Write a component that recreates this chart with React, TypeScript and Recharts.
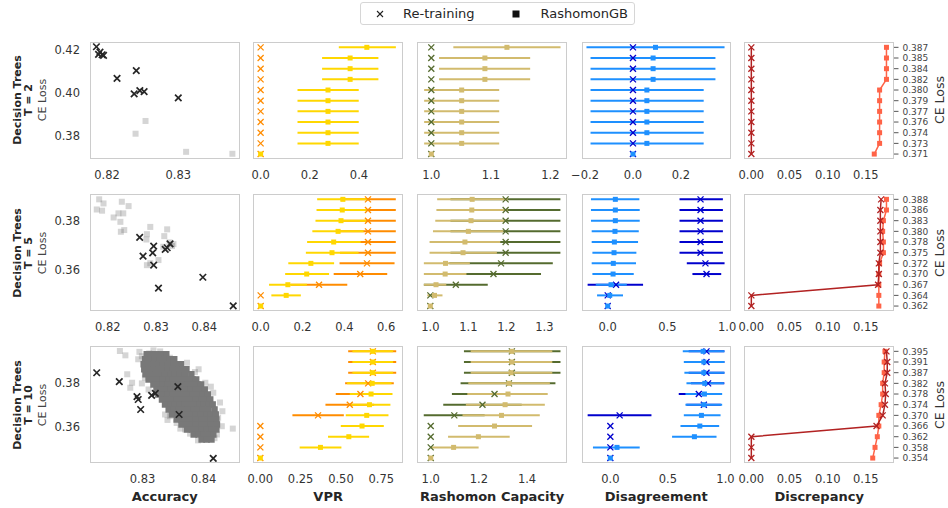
import React from 'react';
import { ScatterChart, Scatter, XAxis, YAxis, ErrorBar } from 'recharts';

type Pt = [number, number];
type Bar = [number, number, number];

// CE-loss thresholds on the right axis, level 0 (bottom) to level 10 (top)
const lossT2 = ['0.371', '0.373', '0.374', '0.376', '0.377', '0.379', '0.380', '0.382', '0.384', '0.385', '0.387'];
const lossT5 = ['0.362', '0.364', '0.367', '0.370', '0.372', '0.375', '0.378', '0.380', '0.383', '0.386', '0.388'];
const lossT10 = ['0.354', '0.358', '0.362', '0.366', '0.370', '0.374', '0.378', '0.382', '0.387', '0.391', '0.395'];

// Accuracy vs CE loss, [accuracy, loss]
const accRetrainT2: Pt[] = [
  [0.8185, 0.4215], [0.8188, 0.418], [0.819, 0.419], [0.8193, 0.4178], [0.8195, 0.4175], [0.8214, 0.4068],
  [0.8241, 0.4104], [0.8238, 0.3997], [0.8246, 0.4012], [0.8252, 0.4007], [0.83, 0.3978],
];
const accGbT2: Pt[] = [[0.8254, 0.3871], [0.824, 0.3812], [0.8311, 0.3728], [0.8376, 0.3719]];

const accRetrainT5: Pt[] = [
  [0.8266, 0.3733], [0.8273, 0.3655], [0.8295, 0.3697], [0.8293, 0.3669], [0.8295, 0.3618], [0.8305, 0.3523],
  [0.8319, 0.3683], [0.8329, 0.3706], [0.8323, 0.369], [0.8397, 0.3568], [0.846, 0.345],
];
const accGbT5: Pt[] = [
  [0.8182, 0.389], [0.8191, 0.3873], [0.8177, 0.3848], [0.8188, 0.3843], [0.8229, 0.388], [0.8243, 0.3862],
  [0.8222, 0.3832], [0.8212, 0.3815], [0.8232, 0.3832], [0.8226, 0.3797], [0.8227, 0.3756], [0.8234, 0.3763],
  [0.8281, 0.3746], [0.8288, 0.3776], [0.828, 0.3724], [0.8323, 0.3766], [0.8317, 0.3738], [0.8333, 0.3697],
  [0.8315, 0.3694], [0.8305, 0.3639], [0.8281, 0.3618], [0.8288, 0.3626], [0.8328, 0.3712], [0.8336, 0.3705],
];

const accRetrainT10: Pt[] = [
  [0.8225, 0.3849], [0.8262, 0.3808], [0.8291, 0.3739], [0.8293, 0.3726], [0.8297, 0.368],
  [0.8315, 0.3745], [0.8321, 0.3754], [0.8358, 0.3785], [0.836, 0.3657], [0.8416, 0.3455],
];
const accGbT10: Pt[] = [
  [0.8263, 0.3949], [0.8272, 0.3929], [0.8295, 0.3945], [0.8293, 0.3911], [0.8311, 0.3938], [0.8275, 0.3842],
  [0.8283, 0.3803], [0.828, 0.378], [0.8304, 0.3865], [0.8304, 0.3826], [0.8299, 0.38], [0.831, 0.3772],
  [0.8321, 0.3803], [0.8323, 0.3757], [0.8332, 0.3726], [0.8337, 0.3657], [0.8345, 0.3649], [0.8356, 0.3618],
  [0.837, 0.3588], [0.8378, 0.3569], [0.8392, 0.3865], [0.8403, 0.3803], [0.8416, 0.3757], [0.8424, 0.3642],
  [0.843, 0.3603], [0.8448, 0.3592], [0.8422, 0.3565], [0.8405, 0.3542], [0.8373, 0.3895], [0.8345, 0.3918],
  [0.8332, 0.3926], [0.8299, 0.3925], [0.8318, 0.3952], [0.8329, 0.3947], [0.8386, 0.3852], [0.8412, 0.3785],
  [0.8427, 0.3712], [0.8431, 0.3672], [0.8418, 0.3548], [0.8391, 0.3538], [0.8362, 0.3592], [0.8341, 0.3632],
];
// dense core of the T = 10 RashomonGB cloud, one row per loss level
const accGbT10Core: { loss: number; acc: number[] }[] = [
  { loss: 0.3934, acc: [0.8307, 0.8316, 0.8322, 0.8331, 0.8339] },
  { loss: 0.3911, acc: [0.8304, 0.8313, 0.832, 0.8329, 0.8336, 0.8345, 0.8352] },
  { loss: 0.3888, acc: [0.8302, 0.8309, 0.8318, 0.8327, 0.8334, 0.8342, 0.8351, 0.8358, 0.8363] },
  { loss: 0.3865, acc: [0.8303, 0.831, 0.8319, 0.8326, 0.8335, 0.8342, 0.835, 0.8359, 0.8366, 0.8372] },
  { loss: 0.3842, acc: [0.8305, 0.8314, 0.8321, 0.833, 0.8337, 0.8346, 0.8353, 0.8361, 0.837, 0.838] },
  { loss: 0.3818, acc: [0.831, 0.8318, 0.8327, 0.8334, 0.8343, 0.835, 0.8358, 0.8367, 0.8374, 0.8382, 0.8388] },
  { loss: 0.3795, acc: [0.8318, 0.8325, 0.8334, 0.8342, 0.8351, 0.8358, 0.8366, 0.8375, 0.8382, 0.839, 0.8396] },
  { loss: 0.3772, acc: [0.8323, 0.8331, 0.834, 0.8347, 0.8355, 0.8364, 0.8371, 0.8379, 0.8388, 0.8395, 0.8402] },
  { loss: 0.3749, acc: [0.8326, 0.8335, 0.8342, 0.835, 0.8359, 0.8366, 0.8374, 0.8383, 0.839, 0.8398, 0.8407] },
  { loss: 0.3726, acc: [0.8332, 0.834, 0.8349, 0.8356, 0.8364, 0.8373, 0.838, 0.8388, 0.8397, 0.8404, 0.8411] },
  { loss: 0.3703, acc: [0.8337, 0.8346, 0.8353, 0.8361, 0.837, 0.8377, 0.8385, 0.8394, 0.8401, 0.8409, 0.8415] },
  { loss: 0.368, acc: [0.8343, 0.8351, 0.836, 0.8367, 0.8375, 0.8384, 0.8391, 0.8399, 0.8408, 0.8418] },
  { loss: 0.3657, acc: [0.8348, 0.8357, 0.8364, 0.8372, 0.8381, 0.8388, 0.8396, 0.8405, 0.8412, 0.842] },
  { loss: 0.3634, acc: [0.8356, 0.8364, 0.8373, 0.838, 0.8388, 0.8397, 0.8404, 0.8412, 0.8421] },
  { loss: 0.3611, acc: [0.8364, 0.8373, 0.838, 0.8388, 0.8397, 0.8404, 0.8412, 0.8422] },
  { loss: 0.3588, acc: [0.8373, 0.8381, 0.839, 0.8397, 0.8405, 0.8414, 0.8421] },
  { loss: 0.3565, acc: [0.8384, 0.8392, 0.8401, 0.8408, 0.8416] },
  { loss: 0.3542, acc: [0.8397, 0.8405, 0.8413] },
];

// per level: [mean, low, high]
const vprGbT2: Bar[] = [
  [0, 0, 0], [0.274, 0.15, 0.399], [0.274, 0.15, 0.399], [0.274, 0.15, 0.399], [0.274, 0.15, 0.399], [0.274, 0.15, 0.399],
  [0.274, 0.15, 0.399], [0.364, 0.25, 0.479], [0.364, 0.25, 0.479], [0.364, 0.25, 0.479], [0.432, 0.318, 0.55],
];
const vprRtT2: Bar[] = [
  [0, 0, 0], [0, 0, 0], [0, 0, 0], [0, 0, 0], [0, 0, 0], [0, 0, 0], [0, 0, 0], [0, 0, 0], [0, 0, 0], [0, 0, 0], [0, 0, 0],
];
const rcGbT2: Bar[] = [
  [1, 1, 1], [1.051, 0.988, 1.114], [1.051, 0.988, 1.114], [1.051, 0.988, 1.114], [1.051, 0.988, 1.114], [1.051, 0.988, 1.114],
  [1.051, 0.988, 1.114], [1.09, 1.013, 1.166], [1.09, 1.013, 1.166], [1.09, 1.013, 1.166], [1.127, 1.037, 1.217],
];
const rcRtT2: Bar[] = [
  [1, 1, 1], [1, 1, 1], [1, 1, 1], [1, 1, 1], [1, 1, 1], [1, 1, 1], [1, 1, 1], [1, 1, 1], [1, 1, 1], [1, 1, 1], [1, 1, 1],
];
const disGbT2: Bar[] = [
  [0, 0, 0], [0.058, -0.177, 0.295], [0.058, -0.177, 0.295], [0.058, -0.177, 0.295], [0.058, -0.177, 0.295], [0.058, -0.177, 0.295],
  [0.058, -0.177, 0.295], [0.084, -0.177, 0.344], [0.084, -0.177, 0.344], [0.084, -0.177, 0.344], [0.094, -0.194, 0.382],
];
const disRtT2: Bar[] = [
  [0, 0, 0], [0, 0, 0], [0, 0, 0], [0, 0, 0], [0, 0, 0], [0, 0, 0], [0, 0, 0], [0, 0, 0], [0, 0, 0], [0, 0, 0], [0, 0, 0],
];
const discGbT2 = [0.161, 0.168, 0.168, 0.168, 0.168, 0.168, 0.168, 0.177, 0.177, 0.177, 0.177];
const discRtT2 = [0, 0, 0, 0, 0, 0, 0, 0, 0, 0, 0];

const vprGbT5: Bar[] = [
  [0, 0, 0], [0.122, 0.051, 0.192], [0.13, 0.04, 0.221], [0.22, 0.117, 0.327], [0.24, 0.132, 0.351], [0.341, 0.216, 0.468],
  [0.349, 0.222, 0.478], [0.37, 0.247, 0.492], [0.384, 0.262, 0.506], [0.39, 0.267, 0.514], [0.393, 0.27, 0.517],
];
const vprRtT5: Bar[] = [
  [0, 0, 0], [0, 0, 0], [0.279, 0.144, 0.414], [0.476, 0.349, 0.605], [0.508, 0.377, 0.64], [0.513, 0.379, 0.646],
  [0.513, 0.379, 0.646], [0.513, 0.379, 0.646], [0.513, 0.379, 0.646], [0.513, 0.379, 0.646], [0.513, 0.379, 0.646],
];
const rcGbT5: Bar[] = [
  [1, 1, 1], [1.011, 0.992, 1.032], [1.015, 0.983, 1.042], [1.039, 0.983, 1.095], [1.04, 0.983, 1.104], [1.086, 0.998, 1.175],
  [1.091, 0.998, 1.184], [1.1, 1.007, 1.192], [1.107, 1.013, 1.2], [1.109, 1.016, 1.203], [1.11, 1.018, 1.203],
];
const rcRtT5: Bar[] = [
  [1, 1, 1], [1, 1, 1], [1.067, 0.983, 1.151], [1.166, 1.041, 1.291], [1.186, 1.05, 1.322], [1.198, 1.053, 1.342],
  [1.198, 1.053, 1.342], [1.198, 1.053, 1.342], [1.198, 1.053, 1.342], [1.198, 1.053, 1.342], [1.198, 1.053, 1.342],
];
const disGbT5: Bar[] = [
  [0, 0, 0], [0.017, -0.089, 0.128], [0.028, -0.1, 0.16], [0.045, -0.128, 0.218], [0.047, -0.134, 0.237], [0.053, -0.128, 0.24],
  [0.056, -0.134, 0.254], [0.061, -0.134, 0.26], [0.064, -0.14, 0.268], [0.064, -0.14, 0.268], [0.064, -0.14, 0.265],
];
const disRtT5: Bar[] = [
  [0, 0, 0], [0, 0, 0], [0.07, -0.168, 0.296], [0.827, 0.709, 0.95], [0.818, 0.662, 0.978], [0.777, 0.601, 0.964],
  [0.777, 0.601, 0.964], [0.777, 0.601, 0.964], [0.777, 0.601, 0.964], [0.777, 0.601, 0.964], [0.777, 0.601, 0.964],
];
const discGbT5 = [0.167, 0.167, 0.167, 0.167, 0.168, 0.173, 0.173, 0.172, 0.173, 0.177, 0.177];
const discRtT5 = [0, 0, 0.166, 0.167, 0.167, 0.169, 0.169, 0.169, 0.169, 0.169, 0.17];

const vprGbT10: Bar[] = [
  [0, 0, 0], [0.373, 0.244, 0.503], [0.549, 0.42, 0.675], [0.631, 0.499, 0.766], [0.66, 0.53, 0.795], [0.677, 0.547, 0.807],
  [0.687, 0.555, 0.82], [0.694, 0.538, 0.814], [0.696, 0.571, 0.824], [0.698, 0.571, 0.824], [0.698, 0.571, 0.824],
];
const vprRtT10: Bar[] = [
  [0, 0, 0], [0, 0, 0], [0, 0, 0], [0, 0, 0], [0.358, 0.199, 0.518], [0.555, 0.404, 0.706],
  [0.621, 0.468, 0.774], [0.669, 0.526, 0.828], [0.698, 0.545, 0.843], [0.698, 0.545, 0.843], [0.698, 0.545, 0.843],
];
const rcGbT10: Bar[] = [
  [1, 1, 1], [1.095, 1.0, 1.199], [1.198, 1.072, 1.328], [1.265, 1.114, 1.421], [1.294, 1.132, 1.453], [1.309, 1.146, 1.474],
  [1.321, 1.152, 1.486], [1.325, 1.156, 1.495], [1.334, 1.166, 1.505], [1.337, 1.166, 1.505], [1.337, 1.166, 1.505],
];
const rcRtT10: Bar[] = [
  [1, 1, 1], [1, 1, 1], [1, 1, 1], [1, 1, 1], [1.098, 0.971, 1.224], [1.215, 1.052, 1.378],
  [1.265, 1.088, 1.442], [1.325, 1.124, 1.518], [1.337, 1.138, 1.539], [1.337, 1.138, 1.539], [1.337, 1.138, 1.539],
];
const disGbT10: Bar[] = [
  [0, 0, 0], [0.058, -0.151, 0.255], [0.73, 0.536, 0.922], [0.777, 0.609, 0.945], [0.791, 0.638, 0.957], [0.812, 0.652, 0.971],
  [0.817, 0.652, 0.971], [0.82, 0.661, 0.986], [0.812, 0.643, 0.991], [0.812, 0.638, 0.991], [0.806, 0.629, 0.991],
];
const disRtT10: Bar[] = [
  [0, 0, 0], [0, 0, 0], [0, 0, 0], [0, 0, 0], [0.081, -0.197, 0.357], [0.812, 0.66, 0.96],
  [0.768, 0.594, 0.94], [0.849, 0.7, 0.99], [0.835, 0.68, 0.99], [0.835, 0.68, 0.99], [0.835, 0.68, 0.99],
];
const discGbT10 = [0.159, 0.162, 0.165, 0.167, 0.167, 0.17, 0.172, 0.172, 0.174, 0.174, 0.175];
const discRtT10 = [0, 0, 0, 0.164, 0.172, 0.175, 0.176, 0.175, 0.178, 0.178, 0.177];

const FONT = "'DejaVu Sans', sans-serif";
const PW = 149.5;
const PH = 117.4;
const XH = 32;
const PAD = 22;
const colLeft = [90, 253.4, 417.3, 581.5, 744.4];
const rowTop = [41.7, 193.9, 345.9];
const levels = [0, 1, 2, 3, 4, 5, 6, 7, 8, 9, 10];

const tickStyle = { fontSize: 11.5, fill: '#333', fontFamily: FONT };
const fmt = (d: number) => (v: number) => (v < 0 ? '\u2212' : '') + Math.abs(v).toFixed(d);

const xShape = (color: string, s: number, w: number) => (p: any) => {
  const h = s / 2;
  return (
    <g>
      <line x1={p.cx - h} y1={p.cy - h} x2={p.cx + h} y2={p.cy + h} stroke={color} strokeWidth={w} />
      <line x1={p.cx - h} y1={p.cy + h} x2={p.cx + h} y2={p.cy - h} stroke={color} strokeWidth={w} />
    </g>
  );
};
const sqShape = (color: string, s: number, op = 1) => (p: any) => (
  <rect x={p.cx - s / 2} y={p.cy - s / 2} width={s} height={s} fill={color} fillOpacity={op} />
);
const blank = () => <g />;

const Frame = ({ left }: { left: number }) => (
  <div style={{ position: 'absolute', left, top: 0, width: PW, height: PH, border: '1.25px solid #cccccc', boxSizing: 'border-box', pointerEvents: 'none' }} />
);

const toPts = (arr: Pt[]) => arr.map(([x, y]) => ({ x, y }));
const toBars = (arr: Bar[]) => arr.map(([m, lo, hi], i) => ({ x: m, y: i, err: [m - lo, hi - m] }));

const AccPanel = ({ left, top, retrain, gb, core, xDomain, xTicks, yDomain, yTicks }: any) => {
  const corePts = core ? core.flatMap((r: any) => r.acc.map((a: number) => ({ x: a, y: r.loss }))) : [];
  return (
    <div style={{ position: 'absolute', left: left - 50, top }}>
      <ScatterChart width={50 + PW + PAD} height={PH + XH} margin={{ top: 0, right: PAD, bottom: 0, left: 0 }}>
        <XAxis type="number" dataKey="x" domain={xDomain} ticks={xTicks} tickFormatter={fmt(2)} allowDataOverflow
          axisLine={false} tickLine={false} tickSize={6} tickMargin={5.5} tick={tickStyle} height={XH} interval={0} />
        <YAxis type="number" dataKey="y" domain={yDomain} ticks={yTicks} tickFormatter={fmt(2)} allowDataOverflow
          axisLine={false} tickLine={false} tickSize={6} tickMargin={4} tick={tickStyle} width={50} interval={0} />
        <Scatter data={toPts(gb)} shape={sqShape('#696969', 6, 0.28)} isAnimationActive={false} />
        {core && <Scatter data={corePts} shape={sqShape('#787878', 6.5, 1)} isAnimationActive={false} />}
        <Scatter data={toPts(retrain)} shape={xShape('#262626', 6.5, 1.7)} isAnimationActive={false} />
      </ScatterChart>
      <Frame left={50} />
    </div>
  );
};

const ErrPanel = ({ left, top, gb, rt, gbColor, rtColor, domain, ticks, digits }: any) => {
  const gbData = toBars(gb);
  const rtData = toBars(rt);
  return (
    <div style={{ position: 'absolute', left: left - PAD, top }}>
      <ScatterChart width={PW + 2 * PAD} height={PH + XH} margin={{ top: 0, right: PAD, bottom: 0, left: PAD }}>
        <XAxis type="number" dataKey="x" domain={domain} ticks={ticks} tickFormatter={fmt(digits)} allowDataOverflow
          axisLine={false} tickLine={false} tickSize={6} tickMargin={5.5} tick={tickStyle} height={XH} interval={0} />
        <YAxis type="number" dataKey="y" domain={[-0.5, 10.5]} allowDataOverflow hide width={0} />
        <Scatter data={rtData} shape={blank} isAnimationActive={false}>
          <ErrorBar dataKey="err" direction="x" stroke={rtColor} strokeWidth={2} width={0} isAnimationActive={false} />
        </Scatter>
        <Scatter data={gbData} shape={blank} isAnimationActive={false}>
          <ErrorBar dataKey="err" direction="x" stroke={gbColor} strokeWidth={2} width={0} isAnimationActive={false} />
        </Scatter>
        <Scatter data={rtData} shape={xShape(rtColor, 6, 1.3)} isAnimationActive={false} />
        <Scatter data={gbData} shape={sqShape(gbColor, 5)} isAnimationActive={false} />
      </ScatterChart>
      <Frame left={PAD} />
    </div>
  );
};

const DiscPanel = ({ left, top, gb, rt, labels }: any) => {
  const gbData = gb.map((v: number, i: number) => ({ x: v, y: levels[i] }));
  const rtData = rt.map((v: number, i: number) => ({ x: v, y: levels[i] }));
  return (
    <div style={{ position: 'absolute', left: left - PAD, top }}>
      <ScatterChart width={PW + PAD + 50} height={PH + XH} margin={{ top: 0, right: 0, bottom: 0, left: PAD }}>
        <XAxis type="number" dataKey="x" domain={[-0.0096, 0.1862]} ticks={[0, 0.05, 0.1, 0.15]} tickFormatter={fmt(2)} allowDataOverflow
          axisLine={false} tickLine={false} tickSize={6} tickMargin={5.5} tick={tickStyle} height={XH} interval={0} />
        <YAxis type="number" dataKey="y" orientation="right" domain={[-0.5, 10.5]} ticks={levels} tickFormatter={(i: number) => labels[i]}
          allowDataOverflow axisLine={false} tickLine={{ stroke: '#555', strokeWidth: 1 }} tickSize={5} tickMargin={4}
          tick={{ fontSize: 9, fill: '#444', fontFamily: FONT }} width={50} interval={0} />
        <Scatter data={gbData} line={{ stroke: '#FF6347', strokeWidth: 1.5 }} lineType="joint" shape={sqShape('#FF6347', 5)} isAnimationActive={false} />
        <Scatter data={rtData} line={{ stroke: '#B22222', strokeWidth: 1.5 }} lineType="joint" shape={xShape('#B22222', 6, 1.3)} isAnimationActive={false} />
      </ScatterChart>
      <Frame left={PAD} />
    </div>
  );
};

const VText = ({ x, y, children, style }: any) => (
  <div style={{ position: 'absolute', left: x, top: y, transform: 'translate(-50%, -50%) rotate(-90deg)', whiteSpace: 'nowrap', lineHeight: 1, ...style }}>
    {children}
  </div>
);

const rows = [
  {
    t: 'T = 2', labels: lossT2,
    acc: { retrain: accRetrainT2, gb: accGbT2, xDomain: [0.8176, 0.8386], xTicks: [0.82, 0.83], yDomain: [0.3693, 0.4237], yTicks: [0.38, 0.4, 0.42] },
    vpr: { gb: vprGbT2, rt: vprRtT2, domain: [-0.031, 0.577], ticks: [0, 0.2, 0.4], digits: 1 },
    rc: { gb: rcGbT2, rt: rcRtT2, domain: [0.976, 1.227], ticks: [1.0, 1.1, 1.2], digits: 1 },
    dis: { gb: disGbT2, rt: disRtT2, domain: [-0.2126, 0.411], ticks: [-0.2, 0, 0.2], digits: 1 },
    disc: { gb: discGbT2, rt: discRtT2 },
  },
  {
    t: 'T = 5', labels: lossT5,
    acc: { retrain: accRetrainT5, gb: accGbT5, xDomain: [0.8163, 0.8473], xTicks: [0.82, 0.83, 0.84], yDomain: [0.3427, 0.3912], yTicks: [0.36, 0.38] },
    vpr: { gb: vprGbT5, rt: vprRtT5, domain: [-0.0367, 0.678], ticks: [0, 0.2, 0.4, 0.6], digits: 1 },
    rc: { gb: rcGbT5, rt: rcRtT5, domain: [0.965, 1.358], ticks: [1.0, 1.1, 1.2, 1.3], digits: 1 },
    dis: { gb: disGbT5, rt: disRtT5, domain: [-0.215, 1.036], ticks: [0, 0.5, 1.0], digits: 1 },
    disc: { gb: discGbT5, rt: discRtT5 },
  },
  {
    t: 'T = 10', labels: lossT10,
    acc: { retrain: accRetrainT10, gb: accGbT10, core: accGbT10Core, xDomain: [0.8214, 0.8459], xTicks: [0.83, 0.84], yDomain: [0.3432, 0.3972], yTicks: [0.36, 0.38] },
    vpr: { gb: vprGbT10, rt: vprRtT10, domain: [-0.0455, 0.882], ticks: [0, 0.25, 0.5, 0.75], digits: 2 },
    rc: { gb: rcGbT10, rt: rcRtT10, domain: [0.943, 1.564], ticks: [1.0, 1.2, 1.4], digits: 1 },
    dis: { gb: disGbT10, rt: disRtT10, domain: [-0.246, 1.052], ticks: [0, 0.5, 1.0], digits: 1 },
    disc: { gb: discGbT10, rt: discRtT10 },
  },
];

const titles = ['Accuracy', 'VPR', 'Rashomon Capacity', 'Disagreement', 'Discrepancy'];

export default function App() {
  return (
    <div style={{ position: 'absolute', left: 0, top: 0, width: 948, height: 508, background: '#fff', fontFamily: FONT, color: '#262626' }}>
      {rows.map((r, j) => {
        const top = rowTop[j];
        const cy = top + PH / 2;
        return (
          <React.Fragment key={r.t}>
            <VText x={16.7} y={cy} style={{ fontSize: 11, fontWeight: 'bold' }}>Decision Trees</VText>
            <VText x={28} y={cy} style={{ fontSize: 11, fontWeight: 'bold' }}>{r.t}</VText>
            <VText x={42} y={cy} style={{ fontSize: 11, color: '#444' }}>CE Loss</VText>
            <AccPanel left={colLeft[0]} top={top} {...r.acc} />
            <ErrPanel left={colLeft[1]} top={top} {...r.vpr} gbColor="#FFD700" rtColor="#FF8C00" />
            <ErrPanel left={colLeft[2]} top={top} {...r.rc} gbColor="#D2BB6E" rtColor="#556B2F" />
            <ErrPanel left={colLeft[3]} top={top} {...r.dis} gbColor="#1E90FF" rtColor="#0000CD" />
            <DiscPanel left={colLeft[4]} top={top} {...r.disc} labels={r.labels} />
            <VText x={940} y={cy} style={{ fontSize: 12.5, color: '#333' }}>CE Loss</VText>
          </React.Fragment>
        );
      })}
      {titles.map((t, i) => (
        <div key={t} style={{ position: 'absolute', left: colLeft[i] + PW / 2, top: 496, transform: 'translate(-50%, -50%)', fontSize: 13, fontWeight: 'bold', whiteSpace: 'nowrap' }}>
          {t}
        </div>
      ))}
      <div style={{ position: 'absolute', left: 360, top: 2, width: 275, height: 23, border: '1px solid #d6d6d6', borderRadius: 3, boxSizing: 'border-box', fontSize: 13, color: '#262626' }}>
        <svg style={{ position: 'absolute', left: 15, top: 7 }} width={8} height={8}>
          <line x1={1} y1={1} x2={7} y2={7} stroke="#222" strokeWidth={1.1} />
          <line x1={1} y1={7} x2={7} y2={1} stroke="#222" strokeWidth={1.1} />
        </svg>
        <span style={{ position: 'absolute', left: 42, top: 3 }}>Re-training</span>
        <svg style={{ position: 'absolute', left: 151, top: 7 }} width={8} height={8}>
          <rect x={0.5} y={0.5} width={7} height={7} fill="#111" />
        </svg>
        <span style={{ position: 'absolute', left: 179.5, top: 3 }}>RashomonGB</span>
      </div>
    </div>
  );
}
